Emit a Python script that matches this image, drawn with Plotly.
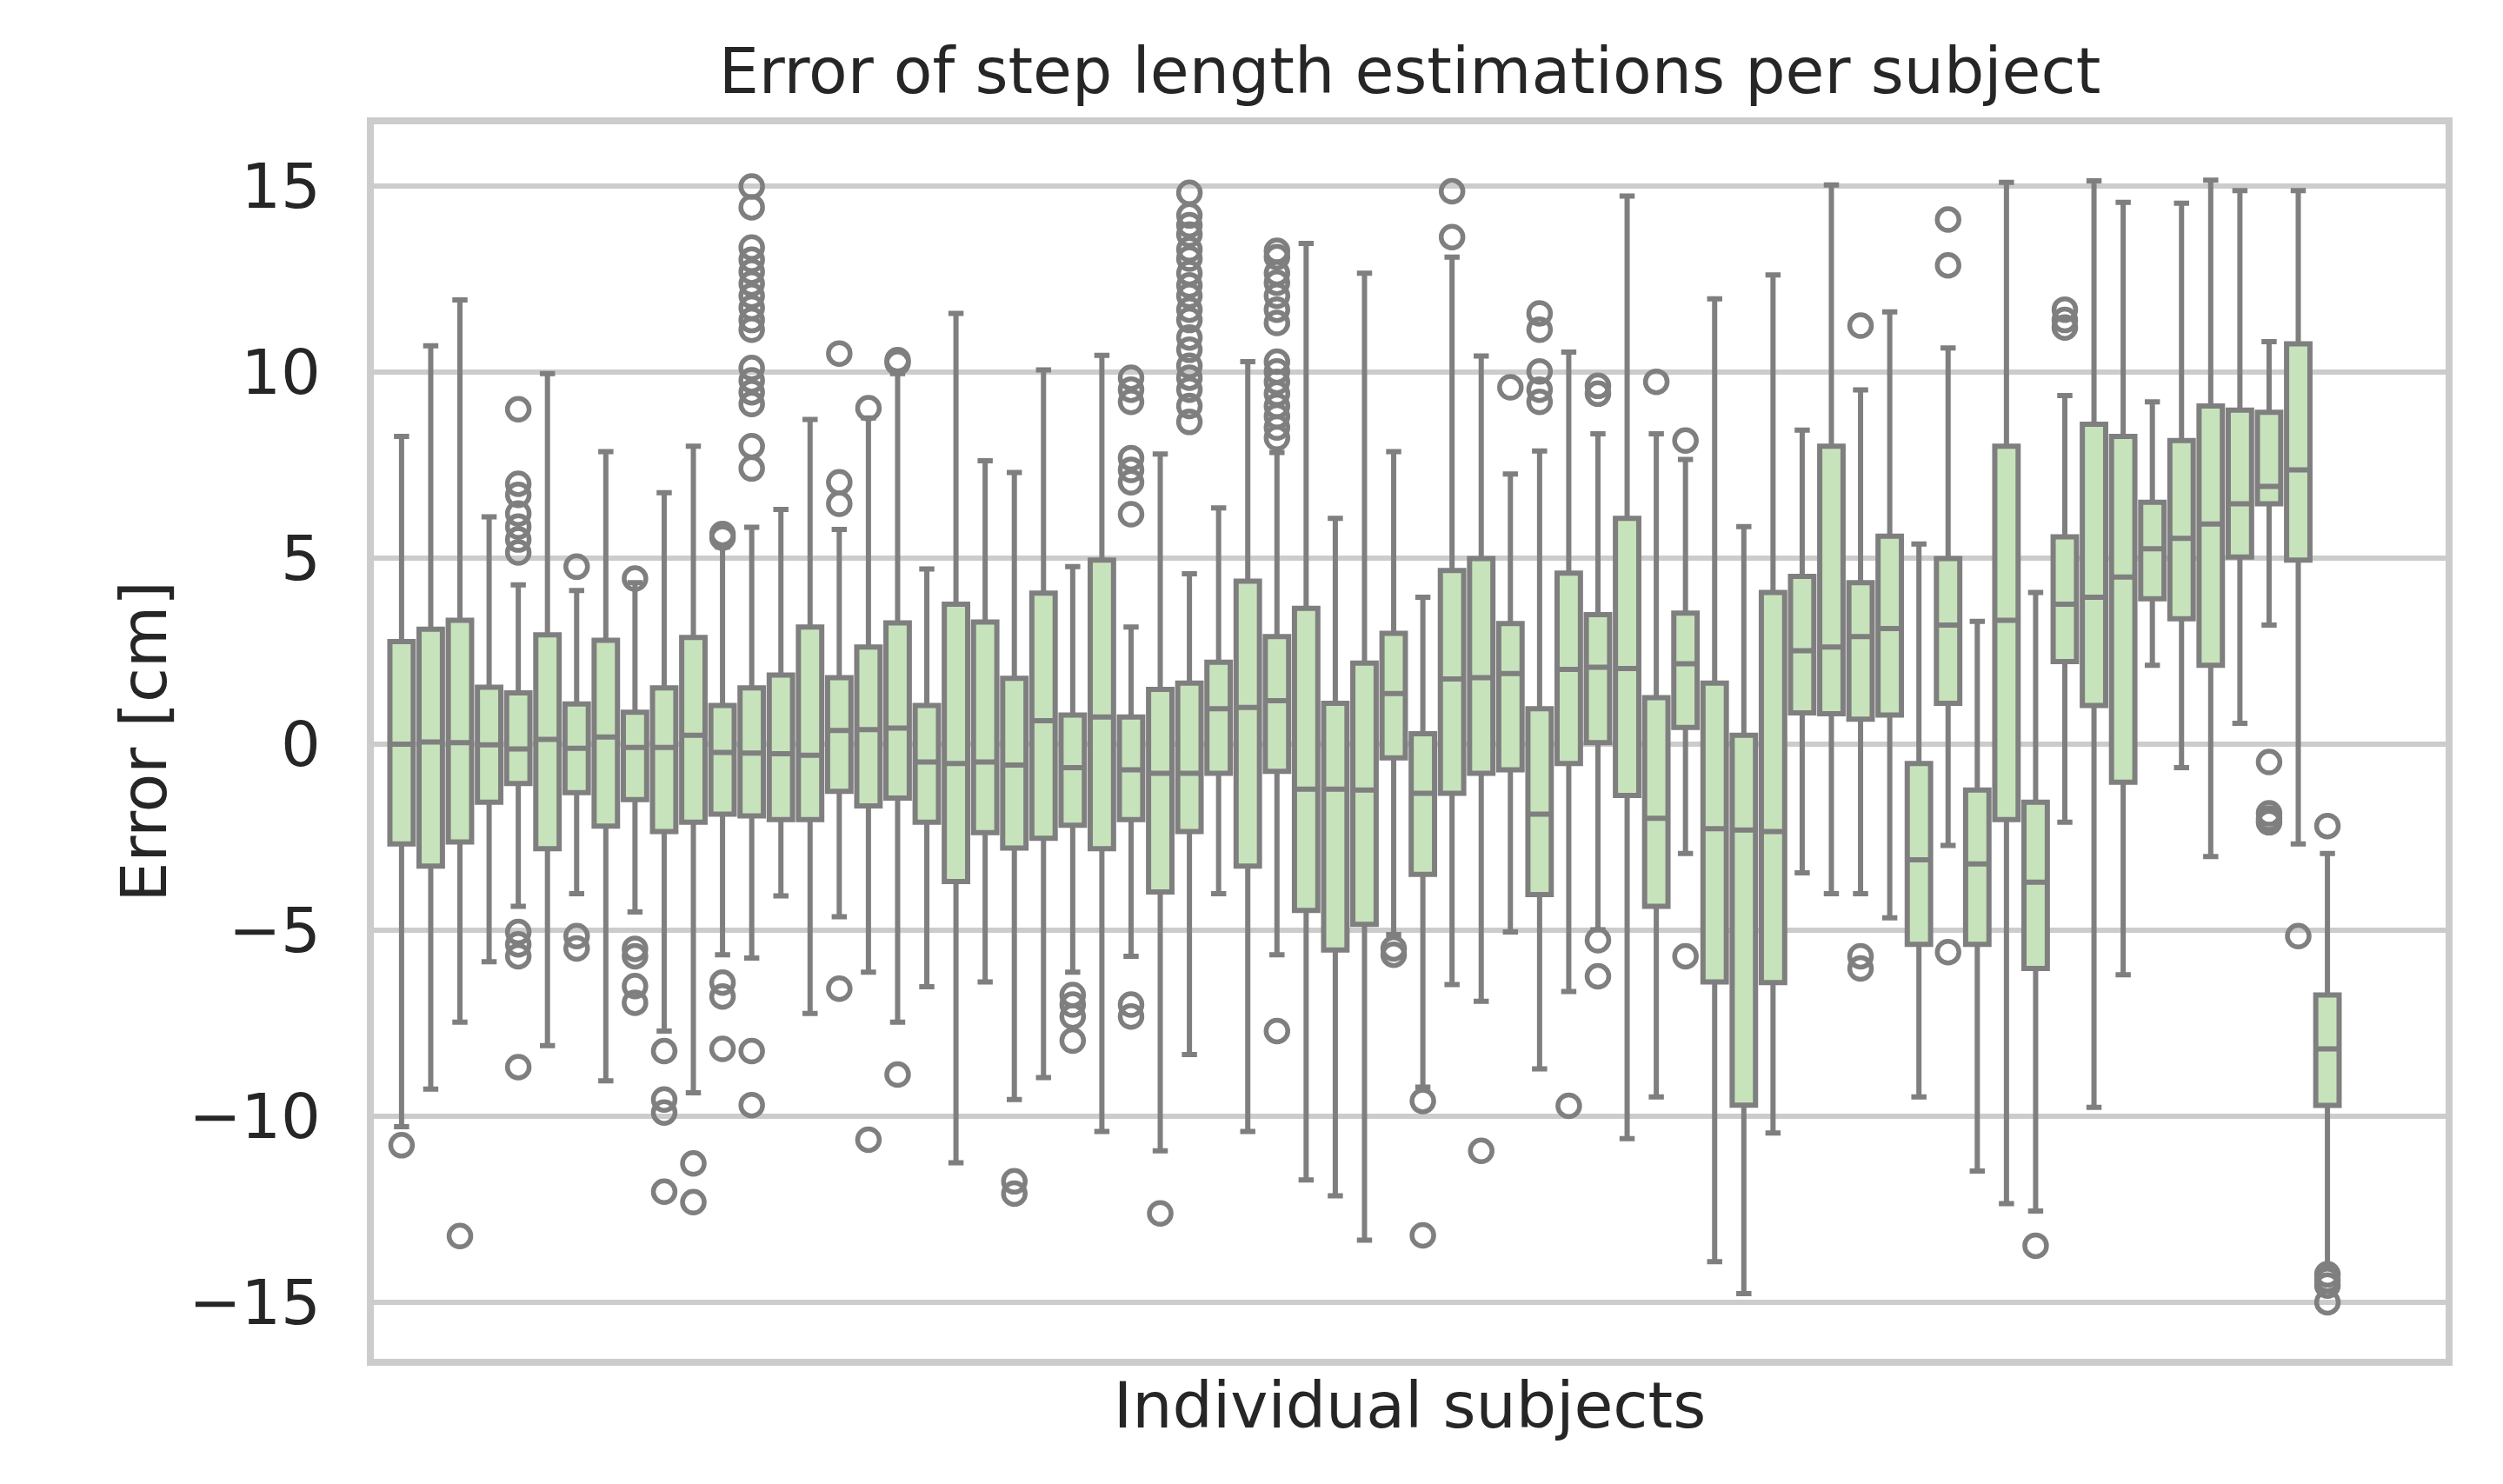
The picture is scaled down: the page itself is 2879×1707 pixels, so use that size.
import plotly.graph_objects as go

# ---- data (one entry per subject, ordered as in the reference) ----
lower_whisker = [-10.28, -9.27, -7.47, -5.85, -4.36, -8.1, -4.02, -9.05, -4.51, -7.71,
                 -9.37, -5.66, -5.75, -4.08, -7.24, -4.64, -6.13, -7.47, -6.52, -11.25,
                 -6.39, -9.55, -8.96, -6.13, -10.41, -5.7, -10.93, -8.34, -4.02, -10.41,
                 -5.66, -11.71, -12.14, -13.33, -5.12, -9.22, -6.46, -6.91, -5.05, -8.73,
                 -6.65, -4.99, -10.6, -9.48, -2.94, -13.91, -14.77, -10.45, -3.46, -4.02,
                 -4.02, -4.67, -9.48, -2.72, -11.47, -12.35, -12.55, -2.1, -9.76, -6.2,
                 2.12, -0.63, -3.02, 0.56, 3.2, -2.68, -14.05]
q1 = [-2.68, -3.28, -2.63, -1.56, -1.06, -2.81, -1.30, -2.2, -1.49, -2.35,
      -2.1, -1.88, -1.93, -2.03, -2.03, -1.27, -1.66, -1.45, -2.1, -3.69,
      -2.38, -2.79, -2.53, -2.18, -2.81, -2.03, -3.97, -2.35, -0.78, -3.28,
      -0.73, -4.47, -5.53, -4.84, -0.37, -3.5, -1.32, -0.78, -0.69, -4.04,
      -0.52, 0.04, -1.38, -4.36, 0.45, -6.39, -9.7, -6.41, 0.84, 0.82,
      0.67, 0.78, -5.38, 1.1, -5.38, -2.03, -6.03, 2.22, 1.04, -1.02,
      3.91, 3.37, 2.12, 5.03, 6.46, 4.95, -9.71]
median = [0.0, 0.06, 0.04, -0.02, -0.13, 0.13, -0.11, 0.19, -0.09, -0.09,
          0.24, -0.22, -0.24, -0.26, -0.3, 0.37, 0.39, 0.43, -0.48, -0.52,
          -0.48, -0.56, 0.63, -0.63, 0.73, -0.69, -0.78, -0.78, 0.95, 0.99,
          1.17, -1.21, -1.21, -1.23, 1.36, -1.32, 1.75, 1.79, 1.9, -1.88,
          2.01, 2.07, 2.03, -1.99, 2.16, -2.27, -2.31, -2.35, 2.51, 2.61,
          2.89, 3.11, -3.11, 3.2, -3.22, 3.33, -3.71, 3.76, 3.95, 4.49,
          5.25, 5.53, 5.92, 6.46, 6.93, 7.37, -8.19]
q3 = [2.76, 3.09, 3.33, 1.53, 1.38, 2.94, 1.08, 2.79, 0.86, 1.51,
      2.87, 1.04, 1.51, 1.86, 3.15, 1.79, 2.61, 3.26, 1.04, 3.76,
      3.28, 1.77, 4.06, 0.78, 4.95, 0.73, 1.47, 1.64, 2.2, 4.38,
      2.89, 3.65, 1.1, 2.18, 2.98, 0.28, 4.67, 4.99, 3.24, 0.95,
      4.6, 3.48, 6.07, 1.25, 3.52, 1.64, 0.24, 4.08, 4.51, 8.01,
      4.34, 5.59, -0.52, 4.99, -1.23, 8.01, -1.56, 5.57, 8.6, 8.27,
      6.5, 8.16, 9.09, 8.98, 8.92, 10.76, -6.74]
upper_whisker = [8.27, 10.71, 11.94, 6.11, 4.28, 9.96, 4.13, 7.86, 4.34, 6.76,
                 8.01, 5.3, 5.83, 6.31, 8.73, 5.77, 8.77, 9.96, 4.71, 11.58,
                 7.62, 7.3, 10.06, 4.77, 10.45, 3.15, 7.8, 4.58, 6.35, 10.28,
                 7.84, 13.46, 6.07, 12.66, 7.86, 3.95, 13.09, 10.43, 7.26, 7.88,
                 10.54, 8.34, 14.73, 8.34, 7.65, 11.97, 5.85, 12.61, 8.44, 15.03,
                 9.52, 11.62, 5.38, 10.65, 3.3, 15.1, 4.08, 9.37, 15.14, 14.56,
                 9.2, 14.54, 15.16, 14.88, 10.82, 14.88, -2.94]
outliers = [
    [-10.78], [], [-13.22], [],
    [9.0, 7.0, 6.7, 6.2, 5.85, 5.5, 5.15, -5.05, -5.38, -5.7, -8.68],
    [], [4.77, -5.16, -5.49], [], [4.45, -5.5, -5.7, -6.5, -6.95],
    [-8.25, -9.55, -9.9, -12.03], [-11.27, -12.31],
    [5.55, 5.65, -6.41, -6.78, -8.19],
    [14.99, 14.43, 13.35, 13.02, 12.70, 12.38, 12.05, 11.73, 11.40, 11.14,
     10.11, 9.78, 9.46, 9.14, 8.01, 7.41, -8.25, -9.7],
    [], [], [10.5, 7.04, 6.46, -6.57], [9.03, -10.63], [10.25, 10.32, -8.88],
    [], [], [], [-11.75, -12.08], [], [-6.74, -7.0, -7.32, -7.97], [],
    [9.85, 9.53, 9.2, 7.69, 7.37, 7.04, 6.18, -7.0, -7.32], [-12.61],
    [14.82, 14.21, 13.95, 13.7, 13.3, 13.05, 12.66, 12.33, 12.05, 11.68,
     11.4, 10.93, 10.6, 10.17, 9.85, 9.53, 9.09, 8.66],
    [], [],
    [13.26, 13.09, 12.66, 12.4, 12.05, 11.68, 11.32, 10.28, 10.02, 9.74,
     9.42, 9.09, 8.81, 8.51, 8.23, -7.71],
    [], [], [], [-5.49, -5.66], [-9.59, -13.2], [14.86, 13.63], [-10.93],
    [9.59], [11.58, 11.14, 10.02, 9.53, 9.2], [-9.72], [9.63, 9.42, -5.27, -6.24],
    [], [9.74], [8.16, -5.7], [], [], [], [], [], [11.25, -5.7, -6.03], [],
    [], [14.1, 12.87, -5.59], [], [], [-13.48], [11.68, 11.4, 11.2], [], [],
    [], [], [], [], [-0.48, -1.86, -2.0, -2.1], [-5.16],
    [-2.2, -14.25, -14.4, -14.55, -15.0],
]
y_ticks = [-15, -10, -5, 0, 5, 10, 15]
y_tick_labels = ["\u221215", "\u221210", "\u22125", "0", "5", "10", "15"]

subjects = list(range(len(median)))
out_x = [s for s, vals in zip(subjects, outliers) for _ in vals]
out_y = [v for vals in outliers for v in vals]

FONT = "DejaVu Sans"
TXT = "#262626"
GRID = "#cccccc"
LINE = "#7f7f7f"

fig = go.Figure()
fig.add_trace(go.Box(
    x=subjects, q1=q1, median=median, q3=q3,
    lowerfence=lower_whisker, upperfence=upper_whisker,
    width=0.8, whiskerwidth=0.65, boxpoints=False,
    fillcolor="#c7e3bc", line=dict(color=LINE, width=6),
    showlegend=False,
))
fig.add_trace(go.Scatter(
    x=out_x, y=out_y, mode="markers",
    marker=dict(symbol="circle-open", size=25, color=LINE, line=dict(width=5.5, color=LINE)),
    showlegend=False, hoverinfo="y",
))

fig.update_layout(
    width=2879, height=1707,
    paper_bgcolor="white", plot_bgcolor="white",
    margin=dict(l=422, r=74, t=135, b=152, autoexpand=False),
    font=dict(family=FONT, size=72, color=TXT),
    title=dict(text="Error of step length estimations per subject",
               font=dict(family=FONT, size=73, color=TXT),
               x=0.5, xref="paper", xanchor="center",
               y=1 - 73 / 1707, yref="container", yanchor="middle"),
    xaxis=dict(range=[-0.95, 70.05], showticklabels=False, showgrid=False,
               zeroline=False, ticks="", showline=True, mirror=True,
               linecolor=GRID, linewidth=7.5,
               title=dict(text="Individual subjects", font=dict(size=73, color=TXT), standoff=24)),
    yaxis=dict(range=[-16.52, 16.66], tickvals=y_ticks, ticktext=y_tick_labels,
               tickfont=dict(size=72, color=TXT), ticks="", ticklabelstandoff=39,
               showgrid=True, gridcolor=GRID, gridwidth=5.7, zeroline=False,
               showline=True, mirror=True, linecolor=GRID, linewidth=7.5,
               title=dict(text="Error [cm]", font=dict(size=73, color=TXT), standoff=4)),
)

fig.write_html("out.html")
